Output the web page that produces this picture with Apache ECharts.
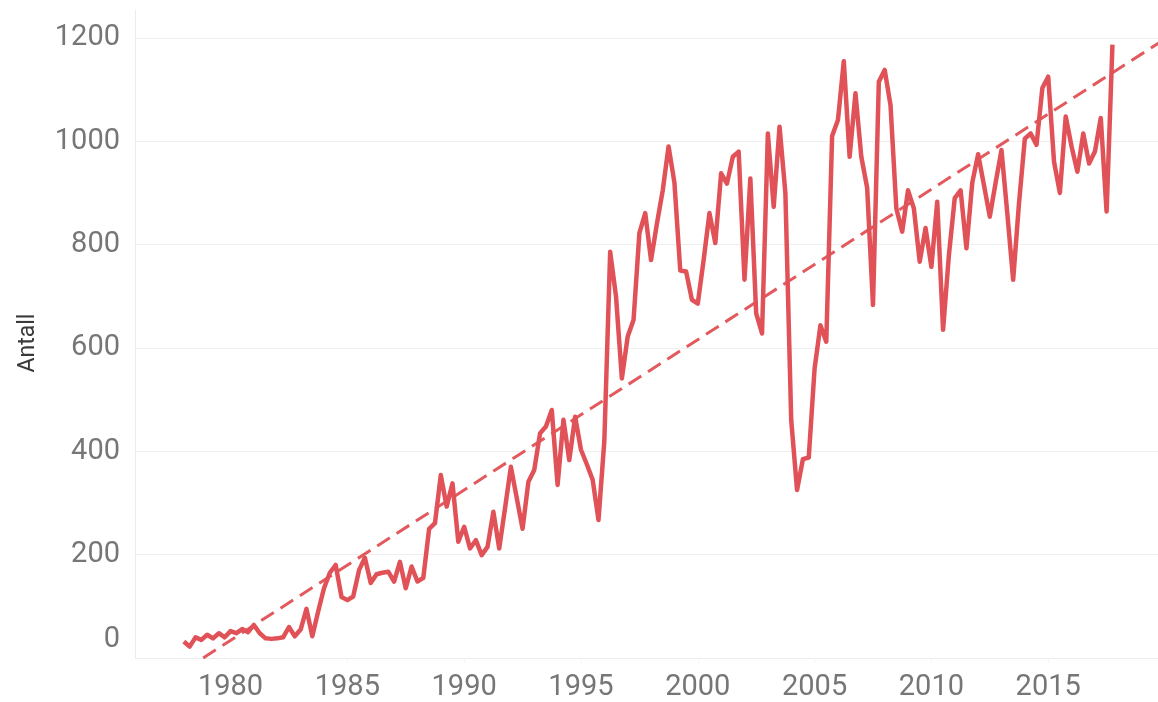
<!DOCTYPE html>
<html><head><meta charset="utf-8">
<script src="https://cdn.jsdelivr.net/npm/echarts@6/dist/echarts.min.js"></script>
<style>html,body{margin:0;padding:0;background:#fff}#c{width:1158px;height:702px}</style>
</head><body><div id="c"></div>
<script>
// Quarterly counts, 1978 Q1 .. 2017 Q4 (4 values per year)
const years = [1978,1979,1980,1981,1982,1983,1984,1985,1986,1987,1988,1989,1990,1991,1992,1993,1994,1995,1996,1997,
               1998,1999,2000,2001,2002,2003,2004,2005,2006,2007,2008,2009,2010,2011,2012,2013,2014,2015,2016,2017];
const quarterlyValues = [
  32, 22, 40, 35,      // 1978
  45, 38, 48, 40,      // 1979
  52, 48, 56, 50,      // 1980
  64, 48, 38, 37,      // 1981
  38, 40, 60, 42,      // 1982
  55, 95, 42, 90,      // 1983
  135, 165, 180, 118,  // 1984
  112, 119, 170, 194,  // 1985
  145, 162, 165, 167,  // 1986
  148, 186, 135, 177,  // 1987
  148, 155, 250, 261,  // 1988
  354, 293, 338, 225,  // 1989
  254, 212, 228, 199,  // 1990
  215, 283, 212, 290,  // 1991
  370, 310, 250, 341,  // 1992
  364, 435, 448, 480,  // 1993
  335, 461, 383, 467,  // 1994
  403, 375, 345, 267,  // 1995
  420, 786, 700, 541,  // 1996
  622, 654, 822, 861,  // 1997
  770, 840, 905, 990,  // 1998
  920, 750, 748, 693,  // 1999
  686, 770, 861, 803,  // 2000
  938, 918, 970, 980,  // 2001
  732, 928, 667, 628,  // 2002
  1015, 873, 1028, 900,// 2003
  460, 325, 385, 388,  // 2004
  560, 644, 612, 1010, // 2005
  1041, 1155, 970, 1093,// 2006
  970, 910, 683, 1115, // 2007
  1138, 1070, 870, 825,// 2008
  905, 870, 767, 832,  // 2009
  757, 883, 635, 780,  // 2010
  890, 905, 793, 920,  // 2011
  975, 915, 854, 920,  // 2012
  983, 860, 732, 880,  // 2013
  1005, 1015, 993, 1103,// 2014
  1125, 960, 900, 1048,// 2015
  990, 941, 1015, 957, // 2016
  980, 1045, 864, 1187 // 2017
];
const xTickLabels = [1980, 1985, 1990, 1995, 2000, 2005, 2010, 2015];
const yTickLabels = [0, 200, 400, 600, 800, 1000, 1200];
const trendYears = [1978, 2020];
const trendValues = [-24, 1198];
const yAxisName = 'Antall';

const seriesData = quarterlyValues.map((v, i) => [years[Math.floor(i / 4)] + (i % 4) * 0.25, v]);
const trendData = trendYears.map((y, i) => [y, trendValues[i]]);

const chart = echarts.init(document.getElementById('c'), null, {renderer: 'canvas'});
chart.setOption({
  animation: false,
  backgroundColor: '#ffffff',
  textStyle: {fontFamily: 'Roboto'},
  grid: {left: 135, right: 0, top: 10, bottom: 44, containLabel: false},
  xAxis: {
    type: 'value',
    min: 1975.91,
    max: 2019.7,
    axisLine: {show: true, lineStyle: {color: '#ececec', width: 1}},
    axisTick: {show: true, customValues: xTickLabels, length: 5, lineStyle: {color: '#f4f4f4'}},
    splitLine: {show: false},
    axisLabel: {
      customValues: xTickLabels,
      formatter: v => String(Math.round(v)),
      color: '#767676', fontSize: 29, fontFamily: 'Roboto', margin: 15
    }
  },
  yAxis: {
    type: 'value',
    min: 0,
    max: 1254,
    interval: 200,
    name: yAxisName,
    nameLocation: 'middle',
    nameGap: 95,
    nameTextStyle: {color: '#3a3a3a', fontSize: 23, fontFamily: 'Roboto', padding: [0, 18, 0, 0]},
    axisLine: {show: true, lineStyle: {color: '#ececec', width: 1}},
    axisTick: {show: false},
    axisLabel: {
      showMaxLabel: false,
      color: '#767676', fontSize: 29, fontFamily: 'Roboto', margin: 15,
      formatter: v => (v === yTickLabels[0] ? '{z|' + v + '}' : String(v)),
      rich: {z: {color: '#767676', fontSize: 29, fontFamily: 'Roboto', padding: [0, 0, 36, 0]}}
    },
    splitLine: {show: true, showMaxLine: false, lineStyle: {color: '#efefef', width: 1}}
  },
  series: [
    {
      type: 'line',
      data: trendData,
      symbol: 'none',
      silent: true,
      clip: true,
      lineStyle: {color: '#e2595e', width: 3, type: [15, 8]},
      z: 2
    },
    {
      type: 'line',
      data: seriesData,
      symbol: 'none',
      clip: true,
      lineStyle: {color: '#e05257', width: 4.5, join: 'round'},
      z: 3
    }
  ]
});
</script>
</body></html>
